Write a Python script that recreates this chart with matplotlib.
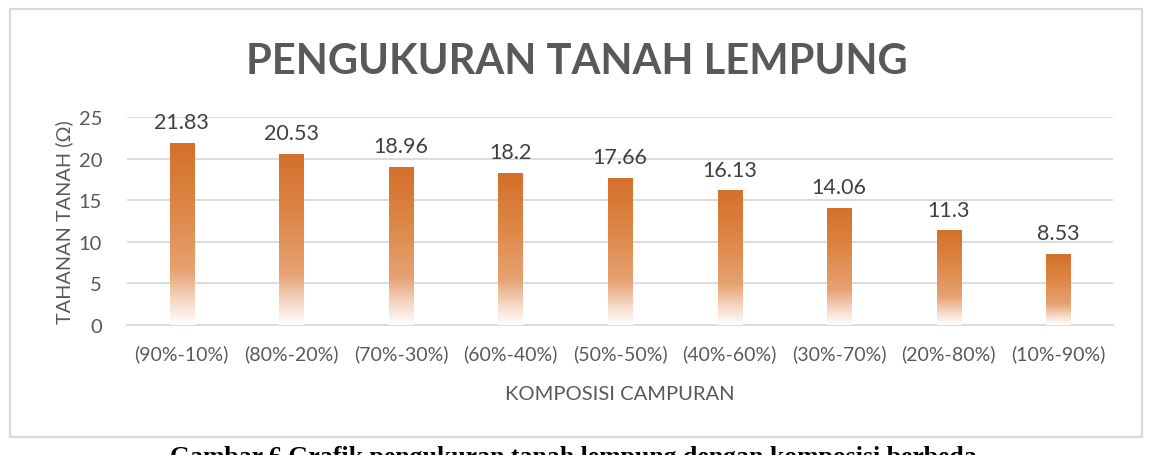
import numpy as np
import matplotlib.pyplot as plt
from matplotlib.colors import LinearSegmentedColormap
from matplotlib.patches import Rectangle

# data
komposisi = ['(90%-10%)', '(80%-20%)', '(70%-30%)', '(60%-40%)', '(50%-50%)',
             '(40%-60%)', '(30%-70%)', '(20%-80%)', '(10%-90%)']
tahanan = [21.83, 20.53, 18.96, 18.2, 17.66, 16.13, 14.06, 11.3, 8.53]
label_teks = ['21.83', '20.53', '18.96', '18.2', '17.66', '16.13', '14.06', '11.3', '8.53']

plt.rcParams['font.family'] = ['Lato', 'DejaVu Sans']

fig = plt.figure(figsize=(11.54, 4.56), dpi=100)
W, H = 1154.0, 456.0

# outer chart frame
fig.patches.append(Rectangle((10 / W, 1 - 438 / H), 1132 / W, 428 / H,
                             transform=fig.transFigure, fill=False,
                             edgecolor='#d9d9d9', linewidth=1.6))

ax = fig.add_axes([127 / W, 1 - 326 / H, (1113 - 127) / W, (326 - 118) / H])

cmap = LinearSegmentedColormap.from_list(
    'oranye', [(0.0, '#ffffff'), (0.12, '#f6dccb'), (0.3, '#e6a272'),
               (0.65, '#dd8645'), (1.0, '#d4702b')])
grad = np.linspace(1, 0, 256).reshape(-1, 1)

lebar = 0.22
x = np.arange(len(komposisi))
for i, v in enumerate(tahanan):
    ax.imshow(grad, extent=[x[i] - lebar / 2, x[i] + lebar / 2, 0, v],
              aspect='auto', cmap=cmap, vmin=0, vmax=1, zorder=3)
    ax.annotate(label_teks[i], (x[i], v), xytext=(0, 8), textcoords='offset points',
                ha='center', va='bottom', fontsize=15.5, color='#404040', zorder=4)

ax.set_xlim(-0.5, len(komposisi) - 0.5)
ax.set_ylim(0, 25)
ax.set_yticks([0, 5, 10, 15, 20, 25])
ax.set_xticks(x)
ax.set_xticklabels(komposisi)
ax.grid(axis='y', color='#d9d9d9', linewidth=1.3, zorder=0)
ax.set_axisbelow(True)
for s in ['top', 'right', 'left']:
    ax.spines[s].set_visible(False)
ax.spines['bottom'].set_color('#d9d9d9')
ax.spines['bottom'].set_linewidth(1.3)
ax.tick_params(axis='both', length=0, labelsize=14, colors='#595959')
ax.tick_params(axis='x', pad=14)
ax.tick_params(axis='y', pad=18, labelsize=14.5)

ax.set_ylabel('TAHANAN TANAH (Ω)', fontsize=14.3, color='#595959')
ax.yaxis.set_label_coords(-0.055, 0.5)
ax.set_xlabel('KOMPOSISI CAMPURAN', fontsize=14.5, color='#595959', labelpad=16)

fig.text(577 / W, 1 - 62 / H, 'PENGUKURAN TANAH LEMPUNG', ha='center', va='center',
         fontsize=30, fontweight='bold', color='#595959')

fig.text(573 / W, 1 - 446 / H,
         'Gambar 6 Grafik pengukuran tanah lempung dengan komposisi berbeda',
         ha='center', va='top', fontsize=18.5, fontweight='bold', color='black',
         family=['Liberation Serif', 'DejaVu Serif'])

fig.savefig('out.png', dpi=100)
